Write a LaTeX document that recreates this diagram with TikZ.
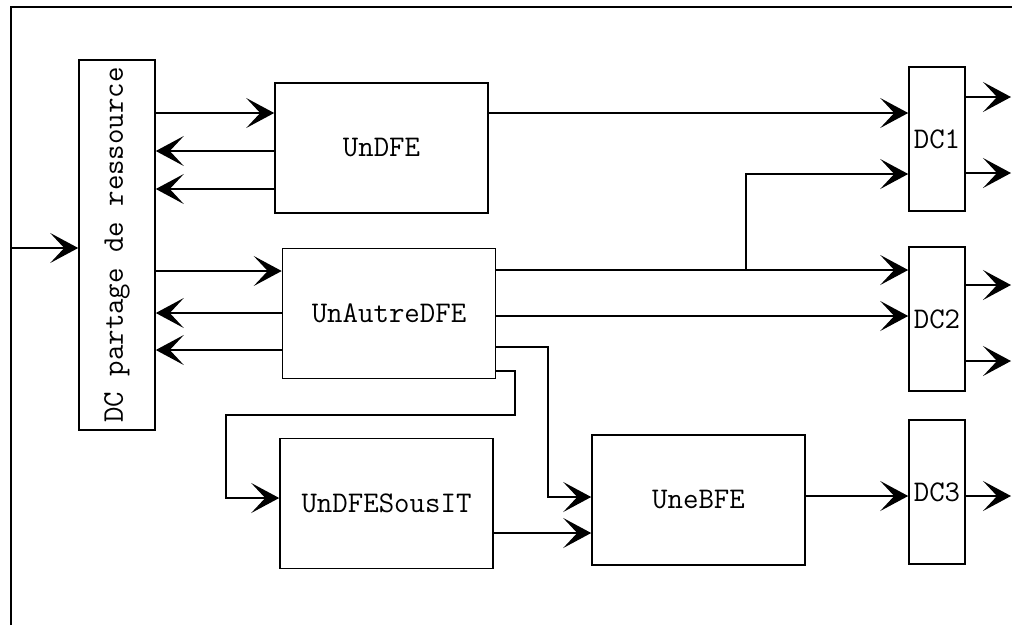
\documentclass[tikz,border=0pt]{standalone}
\usepackage{fontspec}
\usepackage{tikz}
\usetikzlibrary{arrows.meta,calc}

\begin{document}
\begin{tikzpicture}[
    x=1pt, y=-1pt,
    every node/.style={align=center, font=\fontsize{30}{35}\selectfont\ttfamily},
    dcres/.style={rectangle, draw, line width=1.6pt, minimum width=76pt, minimum height=370pt, inner sep=0pt},
    fe/.style={rectangle, draw, line width=1.6pt, minimum width=213pt, minimum height=130pt},
    dc/.style={rectangle, draw, line width=1.6pt, minimum width=56pt, minimum height=144pt, inner sep=0pt},
    arrow/.style={line width=1.6pt, -{Stealth[length=28pt, width=30pt, inset=14pt]}},
    wire/.style={line width=1.6pt}
]
\useasboundingbox (0,0) rectangle (1012,625);

% Frame
\draw[wire] (11,625) -- (11,7) -- (1012,7);

% Resource sharing
\node[dcres] (partage) at (117,245) {\rotatebox{90}{DC partage de ressource}};

% Functional blocks
\node[fe] (undfe) at (381.5,148) {UnDFE};
\node[fe] (unautre) at (389,313.5) {UnAutreDFE};
\node[fe] (sousit) at (386.5,503.5) {UnDFESousIT};
\node[fe] (unebfe) at (698.5,500) {UneBFE};

% Output DCs
\node[dc] (dc1) at (937,139) {DC1};
\node[dc] (dc2) at (937,319) {DC2};
\node[dc] (dc3) at (937,492) {DC3};

% Free ends
\coordinate (in) at (11,248);
\coordinate (split) at (746,270);
\coordinate (out1a) at (1011,97);
\coordinate (out1b) at (1011,173);
\coordinate (out2a) at (1011,285);
\coordinate (out2b) at (1011,361);
\coordinate (out3) at (1011,496);

% Input
\draw[arrow] (in) -- (partage.west |- in);

% Between resource sharing and blocks
\draw[arrow] (partage.east |- 0,113) -- (undfe.west |- 0,113);
\draw[arrow] (undfe.west |- 0,151) -- (partage.east |- 0,151);
\draw[arrow] (undfe.west |- 0,189) -- (partage.east |- 0,189);
\draw[arrow] (partage.east |- 0,271) -- (unautre.west |- 0,271);
\draw[arrow] (unautre.west |- 0,313) -- (partage.east |- 0,313);
\draw[arrow] (unautre.west |- 0,350) -- (partage.east |- 0,350);

% Blocks to DCs
\draw[arrow] (undfe.east |- 0,113) -- (dc1.west |- 0,113);
\draw[arrow] (unautre.east |- split) -- (dc2.west |- split);
\draw[arrow] (split) |- (dc1.west |- 0,174);
\draw[arrow] (unautre.east |- 0,316) -- (dc2.west |- 0,316);
\draw[arrow] (unautre.east |- 0,347) -| (548,497) -- (unebfe.west |- 0,497);
\draw[arrow] (unautre.east |- 0,371) -- (515,371) |- (226,415) |- (sousit.west |- 0,498);
\draw[arrow] (sousit.east |- 0,533) -- (unebfe.west |- 0,533);
\draw[arrow] (unebfe.east |- 0,496) -- (dc3.west |- 0,496);

% DC outputs
\draw[arrow] (dc1.east |- out1a) -- (out1a);
\draw[arrow] (dc1.east |- out1b) -- (out1b);
\draw[arrow] (dc2.east |- out2a) -- (out2a);
\draw[arrow] (dc2.east |- out2b) -- (out2b);
\draw[arrow] (dc3.east |- out3) -- (out3);

\end{tikzpicture}
\end{document}
